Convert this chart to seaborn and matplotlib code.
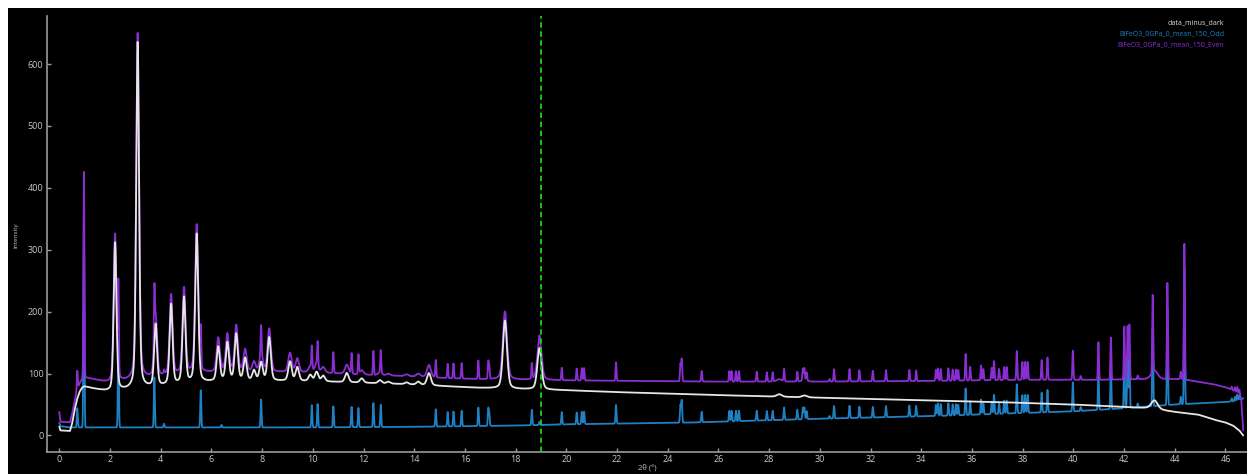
import numpy as np
import pandas as pd
import matplotlib
matplotlib.use("Agg")
import matplotlib.pyplot as plt
from matplotlib.patches import Rectangle
import seaborn as sns

# ---------------- data ----------------
# baselines (2theta, intensity)
white_base_x = [0.0, 0.04, 0.42, 0.5, 0.6, 0.7, 0.8, 0.9, 1.0, 1.3, 2.0, 2.6, 3.5, 4.5, 5.5, 6.5, 9.0,
                10.5, 12.0, 13.5, 15.0, 16.5, 18.0, 20.0, 22.0, 25.3, 28.0, 30.0, 33.0, 36.0, 37.0, 40.0,
                42.0, 43.0, 44.0, 44.9, 45.6, 46.0, 46.3, 46.55, 46.7]
white_base_y = [14, 8, 7, 18, 40, 58, 70, 77, 79, 76, 70, 73, 77, 81, 85, 88, 88,
                87, 85, 83, 80, 77, 75, 73, 70, 66, 63, 61, 58, 55, 54, 50,
                46, 44, 38, 34, 25, 21, 16, 8, 0]

purple_base_x = [0.0, 0.04, 0.42, 0.5, 0.6, 0.7, 0.8, 0.9, 1.0, 1.3, 2.0, 2.6, 3.5, 4.5, 5.5, 6.5, 9.0,
                 10.5, 12.0, 13.5, 15.0, 16.5, 18.0, 20.0, 23.0, 26.0, 30.0, 34.0, 36.0, 38.0, 41.0,
                 43.0, 44.3, 44.9, 45.5, 46.0, 46.3, 46.55, 46.62, 46.7]
purple_base_y = [38, 22, 21, 33, 55, 72, 84, 91, 94, 91, 84, 87, 92, 97, 100, 102, 102,
                 101, 98, 96, 93, 91, 90, 89, 88, 87, 87, 88, 89, 90, 90,
                 91, 91, 87, 83, 78, 73, 66, 60, 8]

blue_base_x = [0.0, 0.05, 0.4, 1.0, 5.0, 10.0, 14.0, 18.0, 20.0, 25.0, 30.0, 35.0, 37.0, 40.0,
               42.0, 44.0, 45.0, 46.0, 46.5, 46.7]
blue_base_y = [20, 15, 13, 13, 13, 13, 14, 16, 18, 21, 27, 32, 35, 39,
               44, 50, 52, 54, 56, 60]

# broad peaks of the summed pattern (data_minus_dark, also present in the Even pattern)
broad_pos = [2.20, 3.09, 3.80, 4.41, 4.92, 5.42, 6.27, 6.63, 6.98, 7.33, 7.68, 7.96, 8.28, 9.10,
             9.39, 9.90, 10.15, 10.41, 11.34, 11.93, 12.65, 12.98, 13.70, 14.16, 14.58, 17.58,
             18.94, 28.40, 29.40, 43.20]
broad_height = [240, 560, 100, 130, 139, 240, 55, 61, 75, 36, 16, 29, 70, 31,
                22, 10, 15, 9, 15, 7, 5, 3, 3, 5, 20, 110,
                67, 4, 3, 14]

# sharp Bragg peaks (shared by Odd and Even patterns), height above baseline
sharp_pos = [0.71, 0.97, 2.33, 3.75, 4.13, 5.58, 6.40, 7.96, 9.96, 10.19, 10.81, 11.53, 11.80,
             12.39, 12.68, 14.85, 15.32, 15.55, 15.87, 16.53, 16.92, 16.96, 18.64, 18.94, 19.82,
             20.41, 20.61, 20.70, 21.96, 24.50, 24.55, 25.34, 26.43, 26.52, 26.69, 26.81, 27.51,
             27.91, 28.14, 28.59, 29.11, 29.33, 29.39, 29.48, 30.38, 30.56, 31.17, 31.56, 32.09,
             32.61, 33.53, 33.80, 34.58, 34.66, 34.77, 35.07, 35.24, 35.37, 35.46, 35.75, 35.93,
             36.36, 36.45, 36.78, 36.87, 37.07, 37.27, 37.37, 37.77, 37.99, 38.10, 38.20, 38.75,
             38.98, 39.98, 40.29, 40.99, 41.48, 42.01, 42.14, 42.21, 42.54, 43.13, 43.71, 44.24,
             44.38, 46.25, 46.38, 46.47, 46.55]
sharp_height = [31, 334, 140, 81, 6, 60, 4, 45, 36, 38, 34, 33, 31,
                39, 36, 28, 23, 24, 25, 30, 27, 20, 25, 5, 20,
                19, 20, 20, 30, 28, 36, 17, 17, 17, 17, 17, 16,
                15, 15, 20, 16, 19, 19, 13, 4, 20, 20, 18, 17,
                18, 18, 17, 18, 20, 19, 20, 18, 18, 17, 43, 22,
                24, 18, 20, 31, 18, 21, 21, 47, 29, 29, 29, 32,
                36, 47, 6, 61, 68, 86, 86, 89, 6, 125, 156, 12,
                219, 5, 7, 10, 8]

series_names = ["data_minus_dark", "BiFeO3_0GPa_0_mean_150_Odd", "BiFeO3_0GPa_0_mean_150_Even"]
cursor_x = 19.0
x_ticks = list(range(0, 47, 2))
y_ticks = list(range(0, 700, 100))

# ---------------- build the profiles ----------------
tth = np.arange(0.0, 46.7 + 1e-9, 0.004)


def pseudo_voigt(x, c, h, fwhm, eta):
    d2 = (x - c) ** 2
    g = np.exp(-4 * np.log(2) * d2 / fwhm ** 2)
    lor = 1.0 / (1.0 + 4 * d2 / fwhm ** 2)
    return h * (eta * lor + (1 - eta) * g)


broad = np.zeros_like(tth)
for c, h in zip(broad_pos, broad_height):
    broad += pseudo_voigt(tth, c, h, 0.12 + 0.004 * c, 0.35)

sharp = np.zeros_like(tth)
for c, h in zip(sharp_pos, sharp_height):
    sharp += pseudo_voigt(tth, c, h, 0.045, 0.0)

white = np.interp(tth, white_base_x, white_base_y) + broad
blue = np.interp(tth, blue_base_x, blue_base_y) + sharp
purple = np.interp(tth, purple_base_x, purple_base_y) + broad + sharp

df = pd.DataFrame({"tth": tth, "white": white, "blue": blue, "purple": purple})

# ---------------- style ----------------
W, H = 1247, 474
sns.set_theme(style="dark")
plt.rcParams["font.family"] = ["Open Sans", "DejaVu Sans"]

fig = plt.figure(figsize=(W / 100, H / 100), dpi=100, facecolor="white")
fig.patches.append(Rectangle((8 / W, 0), 1, 1 - 8 / H, transform=fig.transFigure,
                             facecolor="black", edgecolor="none", zorder=-10))
ax = fig.add_axes([47 / W, 1 - 452 / H, (W - 47) / W, (452 - 16) / H])
ax.set_zorder(5)
ax.set_facecolor("black")

c_white = "#e6e6e6"
c_blue = "#1f80c3"
c_purple = "#8a2ed3"

sns.lineplot(data=df, x="tth", y="blue", ax=ax, color=c_blue, linewidth=1.3,
             estimator=None, sort=False, zorder=2)
sns.lineplot(data=df, x="tth", y="purple", ax=ax, color=c_purple, linewidth=1.3,
             estimator=None, sort=False, zorder=3)
sns.lineplot(data=df, x="tth", y="white", ax=ax, color=c_white, linewidth=1.3,
             estimator=None, sort=False, zorder=4)

ax.axvline(cursor_x, color="#19d219", linestyle=(0, (3, 2)), linewidth=1.3, zorder=5)

ax.set_xlim(-0.485, 46.85)
ax.set_ylim(-26.7, 677.7)
ax.set_xticks(x_ticks)
ax.set_yticks(y_ticks)
ax.grid(False)
for s in ["top", "right"]:
    ax.spines[s].set_visible(False)
for s in ["left", "bottom"]:
    ax.spines[s].set_visible(True)
    ax.spines[s].set_color("#9a9a9a")
    ax.spines[s].set_linewidth(1.2)
ax.tick_params(axis="both", which="major", direction="in", length=3, width=1,
               color="#9a9a9a", labelcolor="#c8c8c8", labelsize=6.5, pad=2.5,
               bottom=True, left=True)
ax.set_xlabel("")
ax.set_ylabel("")

fig.text(15.7 / W, 1 - 235 / H, "Intensity", rotation=90, color="#c8c8c8",
         fontsize=4.6, ha="center", va="center", zorder=10)
fig.text(647 / W, 1 - 468 / H, "2θ (°)", color="#c8c8c8", fontsize=5.5,
         ha="center", va="center", zorder=10)

leg_colors = ["#dcdcdc", c_blue, c_purple]
leg_y = [23, 34, 45]
for name, col, yy in zip(series_names, leg_colors, leg_y):
    fig.text(1224 / W, 1 - yy / H, name, color=col, fontsize=5, ha="right", va="center",
             zorder=10)

fig.savefig("out.png", dpi=100, facecolor=fig.get_facecolor())
